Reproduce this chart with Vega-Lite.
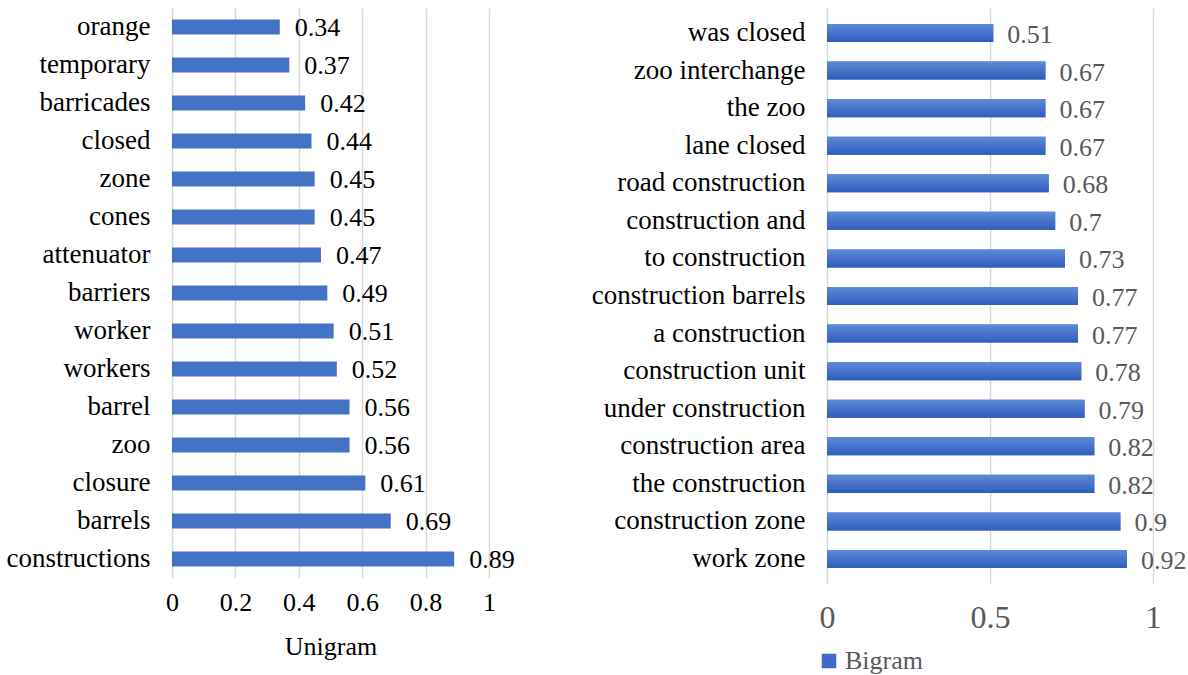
{
  "$schema": "https://vega.github.io/schema/vega-lite/v6.json",
  "background": "white",
  "padding": {"left": 6, "top": 8, "right": 5, "bottom": 0},
  "config": {
    "font": "Liberation Serif",
    "view": {"stroke": null},
    "axis": {"domain": false, "ticks": false, "gridColor": "#d9d9d9", "gridWidth": 1.5, "labelFont": "Liberation Serif", "titleFont": "Liberation Serif", "titleFontWeight": "normal"},
    "legend": {"labelFont": "Liberation Serif"}
  },
  "spacing": 76,
  "resolve": {"legend": {"color": "independent"}},
  "datasets": {
    "uni": [
      {"term": "orange", "value": 0.34},
      {"term": "temporary", "value": 0.37},
      {"term": "barricades", "value": 0.42},
      {"term": "closed", "value": 0.44},
      {"term": "zone", "value": 0.45},
      {"term": "cones", "value": 0.45},
      {"term": "attenuator", "value": 0.47},
      {"term": "barriers", "value": 0.49},
      {"term": "worker", "value": 0.51},
      {"term": "workers", "value": 0.52},
      {"term": "barrel", "value": 0.56},
      {"term": "zoo", "value": 0.56},
      {"term": "closure", "value": 0.61},
      {"term": "barrels", "value": 0.69},
      {"term": "constructions", "value": 0.89}
    ],
    "bi": [
      {"term": "was closed", "value": 0.51, "series": "Bigram"},
      {"term": "zoo interchange", "value": 0.67, "series": "Bigram"},
      {"term": "the zoo", "value": 0.67, "series": "Bigram"},
      {"term": "lane closed", "value": 0.67, "series": "Bigram"},
      {"term": "road construction", "value": 0.68, "series": "Bigram"},
      {"term": "construction and", "value": 0.7, "series": "Bigram"},
      {"term": "to construction", "value": 0.73, "series": "Bigram"},
      {"term": "construction barrels", "value": 0.77, "series": "Bigram"},
      {"term": "a construction", "value": 0.77, "series": "Bigram"},
      {"term": "construction unit", "value": 0.78, "series": "Bigram"},
      {"term": "under construction", "value": 0.79, "series": "Bigram"},
      {"term": "construction area", "value": 0.82, "series": "Bigram"},
      {"term": "the construction", "value": 0.82, "series": "Bigram"},
      {"term": "construction zone", "value": 0.9, "series": "Bigram"},
      {"term": "work zone", "value": 0.92, "series": "Bigram"}
    ]
  },
  "hconcat": [
    {
      "width": 317,
      "height": 570,
      "data": {"name": "uni"},
      "encoding": {
        "y": {"field": "term", "type": "nominal", "sort": null,
              "scale": {"paddingInner": 0.6, "paddingOuter": 0.3},
              "axis": {"title": null, "grid": false, "labelFontSize": 27, "labelColor": "#000000", "labelPadding": 22, "labelLimit": 0}},
        "x": {"field": "value", "type": "quantitative",
              "scale": {"domain": [0, 1], "nice": false},
              "axis": {"title": "Unigram", "values": [0, 0.2, 0.4, 0.6, 0.8, 1], "format": "~g", "labelFlush": false, "labelFontSize": 26, "labelColor": "#000000", "labelPadding": 11, "titleFontSize": 26, "titleColor": "#000000", "titlePadding": 18}}
      },
      "layer": [
        {"mark": {"type": "bar", "color": "#4472C4"}},
        {"mark": {"type": "text", "align": "left", "dx": 15, "dy": 1, "fontSize": 26, "color": "#000000", "font": "Liberation Serif"},
         "encoding": {"text": {"field": "value", "type": "quantitative"}}}
      ]
    },
    {
      "width": 326,
      "height": 576,
      "data": {"name": "bi"},
      "encoding": {
        "y": {"field": "term", "type": "nominal", "sort": null,
              "scale": {"paddingInner": 0.52, "paddingOuter": 0.425},
              "axis": {"title": null, "grid": false, "labelFontSize": 27, "labelColor": "#000000", "labelPadding": 22, "labelLimit": 0}},
        "x": {"field": "value", "type": "quantitative",
              "scale": {"domain": [0, 1], "nice": false},
              "axis": {"title": null, "values": [0, 0.5, 1], "format": "~g", "labelFlush": false, "labelFontSize": 32, "labelColor": "#595959", "labelPadding": 18}}
      },
      "layer": [
        {"mark": {"type": "bar"},
         "encoding": {"color": {"field": "series", "type": "nominal",
                                "scale": {"range": ["#3f6ac6"]},
                                "legend": {"title": null, "orient": "none", "legendX": -11, "legendY": 640, "direction": "horizontal", "symbolType": "square", "symbolSize": 210, "labelFontSize": 26, "labelColor": "#595959", "labelOffset": 3}}}},
        {"mark": {"type": "bar", "color": {"gradient": "linear", "x1": 0, "y1": 0, "x2": 0, "y2": 1, "stops": [{"offset": 0, "color": "#5f8ad6"}, {"offset": 1, "color": "#2e5dbd"}]}}},
        {"mark": {"type": "text", "align": "left", "dx": 14, "dy": 2, "fontSize": 26, "color": "#595959", "font": "Liberation Serif"},
         "encoding": {"text": {"field": "value", "type": "quantitative"}}}
      ]
    }
  ]
}
